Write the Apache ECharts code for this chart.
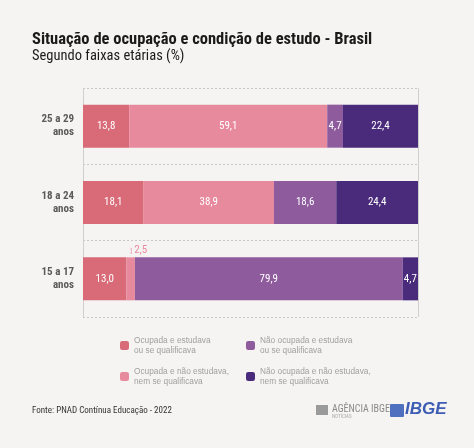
<!DOCTYPE html>
<html><head><meta charset="utf-8">
<script src="https://cdn.jsdelivr.net/npm/echarts@6/dist/echarts.min.js"></script>
<style>html,body{margin:0;padding:0;background:#f5f4f2}#c{width:474px;height:448px}</style>
</head><body><div id="c"></div>
<script>
const categories = ['25 a 29\nanos', '18 a 24\nanos', '15 a 17\nanos'];
const seriesNames = [
  'Ocupada e estudava\nou se qualificava',
  'Ocupada e não estudava,\nnem se qualificava',
  'Não ocupada e estudava\nou se qualificava',
  'Não ocupada e não estudava,\nnem se qualificava'
];
const ocupEstuda = [13.8, 18.1, 13.0];
const ocupNaoEstuda = [59.1, 38.9, 2.5];
const naoOcupEstuda = [4.7, 18.6, 79.9];
const naoOcupNaoEstuda = [22.4, 24.4, 4.7];
const colors = ['#d96a77', '#e88a9d', '#8e5b9d', '#4a2b7b'];
const values = [ocupEstuda, ocupNaoEstuda, naoOcupEstuda, naoOcupNaoEstuda];

const cond = "'Liberation Sans Narrow','Roboto Condensed',Roboto,sans-serif";
const fmt = v => v.toFixed(1).replace('.', ',');

const series = values.map((arr, i) => ({
  name: seriesNames[i],
  type: 'bar',
  stack: 'total',
  barWidth: 43,
  itemStyle: { color: colors[i] },
  data: arr.map((v, j) => {
    const d = { value: v };
    if (i === 1 && j === 2) {
      d.label = {
        show: true, position: 'top', offset: [8, 3],
        formatter: '{t|¦}{v|' + fmt(v) + '}',
        rich: {
          t: { color: '#e88a9d', fontSize: 8, fontFamily: cond, padding: [2, 2, 0, 0] },
          v: { color: '#e88a9d', fontSize: 11, fontFamily: cond }
        }
      };
    }
    return d;
  }),
  label: {
    show: true, position: 'inside', color: '#ffffff', fontSize: 11,
    fontFamily: cond, formatter: p => fmt(p.value)
  }
}));

const legendPos = [[120, 335], [120, 366], [246, 335], [246, 366]];
const legends = seriesNames.map((n, i) => ({
  data: [n], left: legendPos[i][0], top: legendPos[i][1], padding: 0,
  itemWidth: 9, itemHeight: 9, itemGap: 6, icon: 'roundRect',
  selectedMode: false,
  textStyle: { color: '#a0a0a0', fontSize: 8.3, fontFamily: "'Liberation Sans',Arial,sans-serif", lineHeight: 10.5 }
}));

const chart = echarts.init(document.getElementById('c'));
chart.setOption({
  backgroundColor: '#f5f4f2',
  animation: false,
  legend: legends,
  grid: { left: 83, right: 56, top: 88, bottom: 131, containLabel: false },
  xAxis: {
    type: 'value', min: 0, max: 100, interval: 100,
    axisLabel: { show: false }, axisLine: { show: false }, axisTick: { show: false },
    splitLine: { show: true, lineStyle: { color: '#cfcfcf', width: 1 } }
  },
  yAxis: {
    type: 'category', data: categories, inverse: true,
    axisLine: { show: false }, axisTick: { show: false },
    splitLine: { show: true, lineStyle: { color: '#c8c8c8', type: [2, 2], width: 1 } },
    axisLabel: { color: '#5a5a5a', fontSize: 11, fontWeight: 'bold', fontFamily: cond, align: 'right', margin: 9, lineHeight: 13 }
  },
  series: series,
  graphic: [
    { type: 'text', left: 32, top: 31, style: { text: 'Situação de ocupação e condição de estudo - Brasil', fill: '#1a1a1a', font: "bold 16.5px " + cond } },
    { type: 'text', left: 32, top: 49, style: { text: 'Segundo faixas etárias (%)', fill: '#1a1a1a', font: "14.5px " + cond } },
    { type: 'text', left: 32, top: 406, style: { text: 'Fonte: PNAD Contínua Educação - 2022', fill: '#333', font: "9px " + cond } },
    { type: 'text', left: 332, top: 404, style: { text: 'AGÊNCIA IBGE', fill: '#8a8a8a', font: "10px " + cond } },
    { type: 'text', left: 332, top: 414, style: { text: 'NOTÍCIAS', fill: '#aaaaaa', font: "5px " + cond } },
    { type: 'rect', shape: { x: 316, y: 405, width: 12, height: 10 }, style: { fill: '#9a9a9a' } },
    { type: 'rect', shape: { x: 390, y: 404, width: 14, height: 13, r: 1 }, style: { fill: '#4f6fbf' } },
    { type: 'text', left: 405, top: 401, style: { text: 'IBGE', fill: '#3d5db5', font: "italic bold 17px 'Liberation Sans',Arial,sans-serif" } }
  ]
});
</script></body></html>
